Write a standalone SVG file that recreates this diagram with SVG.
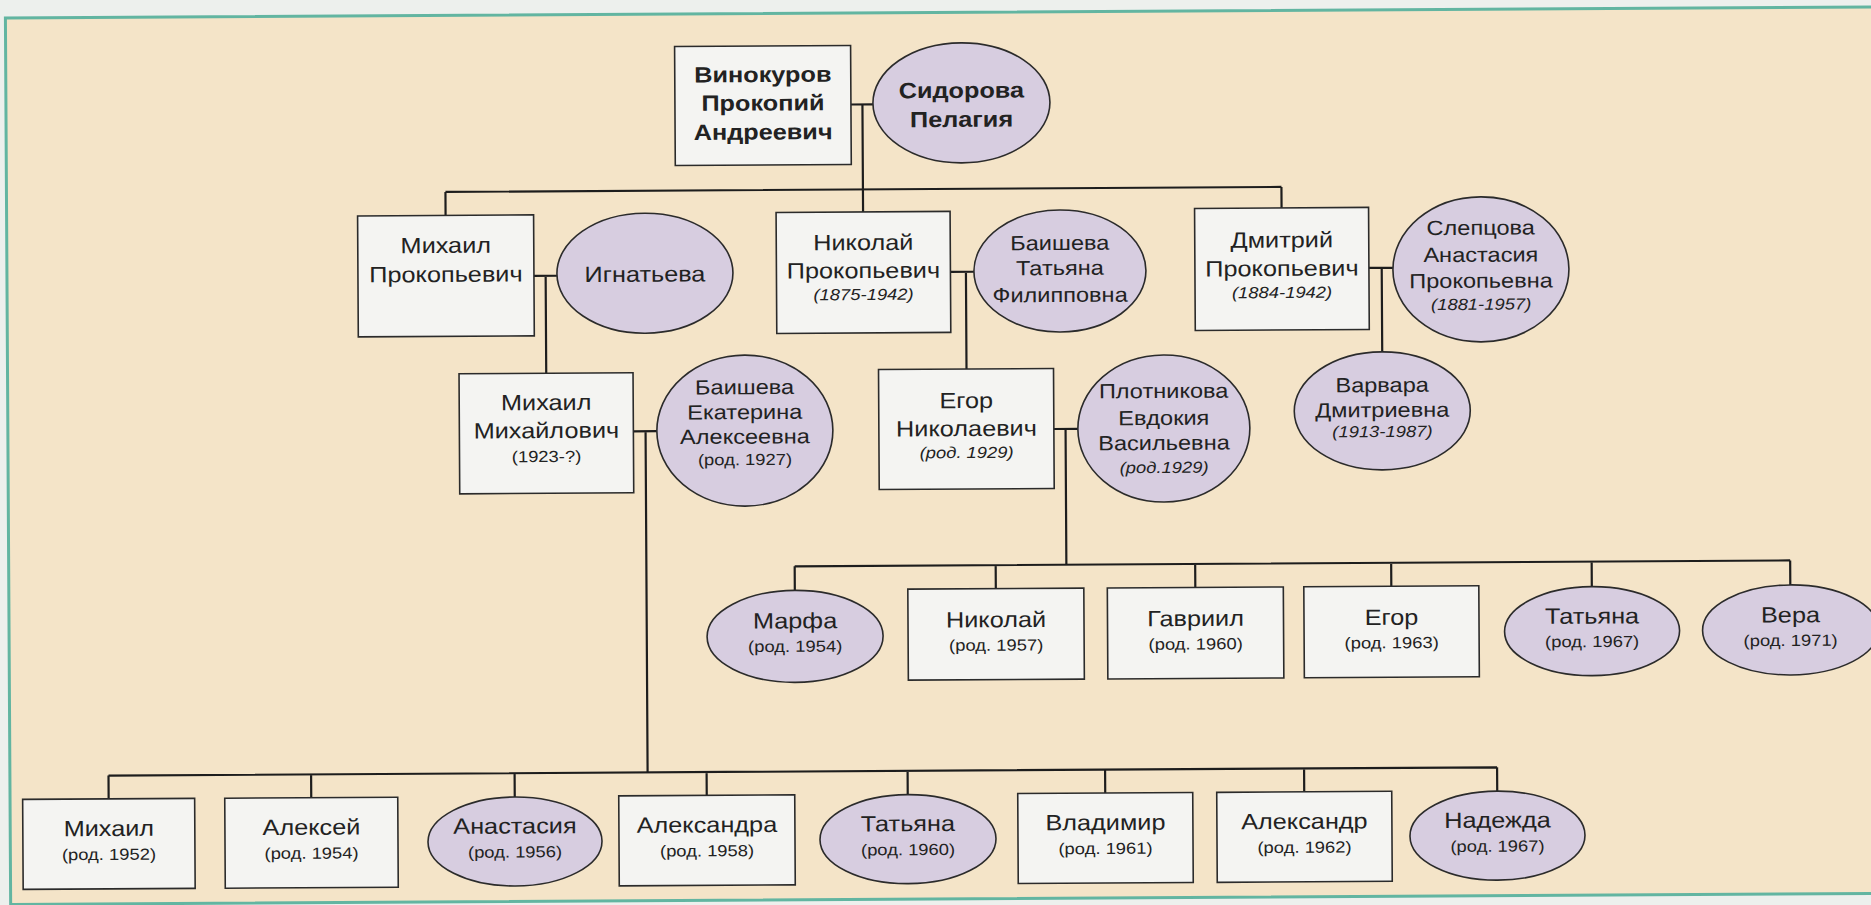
<svg xmlns="http://www.w3.org/2000/svg" width="1871" height="905" viewBox="0 0 1871 905">
<style>
.bg{fill:#edf0ed}
.frame{fill:#f4e4c8;stroke:#62b5a1;stroke-width:3}
.box{fill:#f4f4f2;stroke:#2b2b2b;stroke-width:1.6}
.ell{fill:#d7cde0;stroke:#2b2b2b;stroke-width:1.6}
.conn{stroke:#1d1d1d;stroke-width:2.2;fill:none}
text{font-family:"Liberation Sans",Arial,sans-serif;fill:#222;text-anchor:middle}
.n{font-size:22px}
.b{font-weight:bold;font-size:22px}
.e{font-size:20.5px}
.s{font-size:16px}
.i{font-style:italic}
</style>
<rect class="bg" width="1871" height="905"/>
<g transform="rotate(-0.34 935 452)">
<rect class="frame" x="8" y="12.5" width="1880" height="886.5"/>
<g id="connectors" class="conn">
<path d="M853,104 H875 M864.5,104 V211.5"/>
<path d="M447,189 H1283 M447,189 V212.5 M1283,189 V210"/>
<path d="M535,273.5 H558 M546.7,273.5 V371"/>
<path d="M633.5,429.5 H657 M645.7,429.5 V770.7"/>
<path d="M951.5,272 H975 M967,272 V369.2"/>
<path d="M1054,429.7 H1078 M1065.7,429.7 V565.5"/>
<path d="M1370,270.5 H1394 M1382.8,270.5 V354.5"/>
<path d="M794,565.5 H1789.5 M794,565.5 V589.5 M995,565.5 V589 M1194.5,565.5 V589 M1390.5,565.5 V589 M1591,565.5 V590.5 M1789.5,565.5 V590"/>
<path d="M106.6,770.7 H1495.2 M106.6,770.7 V794 M309.2,770.7 V794 M512.7,770.7 V794.5 M704.7,770.7 V794 M905.7,770.7 V794.5 M1103.2,770.7 V794 M1302.2,770.7 V794 M1495.2,770.7 V794.5"/>
</g>
<g id="vinokurov">
<rect class="box" x="677" y="45" width="176" height="119"/>
<g transform="translate(765 0) scale(1.15 1)"><text class="b" y="81">Винокуров</text><text class="b" y="109.5">Прокопий</text><text class="b" y="138.5">Андреевич</text></g>
</g>
<g id="sidorova">
<ellipse class="ell" cx="963.5" cy="103" rx="88.5" ry="60"/>
<g transform="translate(963.5 0) scale(1.15 1)"><text class="b" y="98">Сидорова</text><text class="b" y="127">Пелагия</text></g>
</g>
<g id="mikhail-p">
<rect class="box" x="359" y="212.5" width="176" height="121"/>
<g transform="translate(447 0) scale(1.15 1)"><text class="n" y="250">Михаил</text><text class="n" y="279">Прокопьевич</text></g>
</g>
<g id="ignatyeva">
<ellipse class="ell" cx="646" cy="271.5" rx="88" ry="60"/>
<g transform="translate(646 0) scale(1.15 1)"><text class="n" y="280">Игнатьева</text></g>
</g>
<g id="mikhail-m">
<rect class="box" x="459.5" y="371" width="174" height="120"/>
<g transform="translate(546.5 0) scale(1.15 1)"><text class="n" y="407.7">Михаил</text><text class="n" y="435.7">Михайлович</text><text class="s" y="459.7">(1923-?)</text></g>
</g>
<g id="baisheva-e">
<ellipse class="ell" cx="745" cy="429.5" rx="88" ry="75.5"/>
<g transform="translate(745 0) scale(1.15 1)"><text class="e" y="393">Баишева</text><text class="e" y="418">Екатерина</text><text class="e" y="442.5">Алексеевна</text><text class="s" y="464">(род. 1927)</text></g>
</g>
<g id="nikolai-p">
<rect class="box" x="777.5" y="211.5" width="174" height="121"/>
<g transform="translate(864.5 0) scale(1.15 1)"><text class="n" y="249.6">Николай</text><text class="n" y="277.6">Прокопьевич</text><text class="s i" y="299.6">(1875-1942)</text></g>
</g>
<g id="baisheva-t">
<ellipse class="ell" cx="1061" cy="271.7" rx="86" ry="61"/>
<g transform="translate(1061 0) scale(1.15 1)"><text class="e" y="250.7">Баишева</text><text class="e" y="275.7">Татьяна</text><text class="e" y="302.7">Филипповна</text></g>
</g>
<g id="egor-n">
<rect class="box" x="879" y="369.2" width="175" height="120"/>
<g transform="translate(966.6 0) scale(1.15 1)"><text class="n" y="408.2">Егор</text><text class="n" y="436.2">Николаевич</text><text class="s i" y="458.2">(род. 1929)</text></g>
</g>
<g id="plotnikova">
<ellipse class="ell" cx="1164" cy="429.8" rx="86" ry="73.5"/>
<g transform="translate(1164 0) scale(1.15 1)"><text class="e" y="399.3">Плотникова</text><text class="e" y="426.3">Евдокия</text><text class="e" y="451.3">Васильевна</text><text class="s i" y="474.3">(род.1929)</text></g>
</g>
<g id="dmitri">
<rect class="box" x="1196" y="210" width="174" height="122"/>
<g transform="translate(1283 0) scale(1.15 1)"><text class="n" y="249.5">Дмитрий</text><text class="n" y="278">Прокопьевич</text><text class="s i" y="300">(1884-1942)</text></g>
</g>
<g id="slepcova">
<ellipse class="ell" cx="1482" cy="272.6" rx="88" ry="72.5"/>
<g transform="translate(1482 0) scale(1.15 1)"><text class="e" y="238">Слепцова</text><text class="e" y="265">Анастасия</text><text class="e" y="291">Прокопьевна</text><text class="s i" y="313">(1881-1957)</text></g>
</g>
<g id="varvara">
<ellipse class="ell" cx="1382.5" cy="413.5" rx="88" ry="59"/>
<g transform="translate(1382.5 0) scale(1.15 1)"><text class="e" y="394.7">Варвара</text><text class="e" y="419.7">Дмитриевна</text><text class="s i" y="439.7">(1913-1987)</text></g>
</g>
<g id="marfa">
<ellipse class="ell" cx="794" cy="635.5" rx="88" ry="46"/>
<g transform="translate(794 0) scale(1.15 1)"><text class="n" y="627.5">Марфа</text><text class="s" y="651">(род. 1954)</text></g>
</g>
<g id="nikolai">
<rect class="box" x="907" y="589" width="176" height="91"/>
<g transform="translate(995 0) scale(1.15 1)"><text class="n" y="627.5">Николай</text><text class="s" y="651">(род. 1957)</text></g>
</g>
<g id="gavriil">
<rect class="box" x="1106.5" y="589" width="176" height="91"/>
<g transform="translate(1194.5 0) scale(1.15 1)"><text class="n" y="627.5">Гавриил</text><text class="s" y="651">(род. 1960)</text></g>
</g>
<g id="egor">
<rect class="box" x="1303" y="589" width="175" height="91"/>
<g transform="translate(1390.5 0) scale(1.15 1)"><text class="n" y="627.5">Егор</text><text class="s" y="651">(род. 1963)</text></g>
</g>
<g id="tatyana-1967">
<ellipse class="ell" cx="1591" cy="635" rx="87.5" ry="44.5"/>
<g transform="translate(1591 0) scale(1.15 1)"><text class="n" y="627.5">Татьяна</text><text class="s" y="651">(род. 1967)</text></g>
</g>
<g id="vera">
<ellipse class="ell" cx="1789.5" cy="635" rx="88" ry="45"/>
<g transform="translate(1789.5 0) scale(1.15 1)"><text class="n" y="627.5">Вера</text><text class="s" y="651">(род. 1971)</text></g>
</g>
<g id="mikhail">
<rect class="box" x="20.6" y="794" width="172" height="90"/>
<g transform="translate(106.6 0) scale(1.15 1)"><text class="n" y="831">Михаил</text><text class="s" y="855">(род. 1952)</text></g>
</g>
<g id="aleksei">
<rect class="box" x="222.7" y="794" width="173" height="90"/>
<g transform="translate(309.2 0) scale(1.15 1)"><text class="n" y="831">Алексей</text><text class="s" y="855">(род. 1954)</text></g>
</g>
<g id="anastasia">
<ellipse class="ell" cx="512.7" cy="839" rx="87" ry="44.5"/>
<g transform="translate(512.7 0) scale(1.15 1)"><text class="n" y="831">Анастасия</text><text class="s" y="855">(род. 1956)</text></g>
</g>
<g id="aleksandra">
<rect class="box" x="616.7" y="794" width="176" height="90"/>
<g transform="translate(704.7 0) scale(1.15 1)"><text class="n" y="831">Александра</text><text class="s" y="855">(род. 1958)</text></g>
</g>
<g id="tatyana-1960">
<ellipse class="ell" cx="905.7" cy="839" rx="88" ry="44.5"/>
<g transform="translate(905.7 0) scale(1.15 1)"><text class="n" y="831">Татьяна</text><text class="s" y="855">(род. 1960)</text></g>
</g>
<g id="vladimir">
<rect class="box" x="1015.7" y="794" width="175" height="90"/>
<g transform="translate(1103.2 0) scale(1.15 1)"><text class="n" y="831">Владимир</text><text class="s" y="855">(род. 1961)</text></g>
</g>
<g id="aleksandr">
<rect class="box" x="1214.7" y="794" width="175" height="90"/>
<g transform="translate(1302.2 0) scale(1.15 1)"><text class="n" y="831">Александр</text><text class="s" y="855">(род. 1962)</text></g>
</g>
<g id="nadezhda">
<ellipse class="ell" cx="1495.2" cy="839" rx="87.5" ry="44.5"/>
<g transform="translate(1495.2 0) scale(1.15 1)"><text class="n" y="831">Надежда</text><text class="s" y="855">(род. 1967)</text></g>
</g>
</g>
</svg>
